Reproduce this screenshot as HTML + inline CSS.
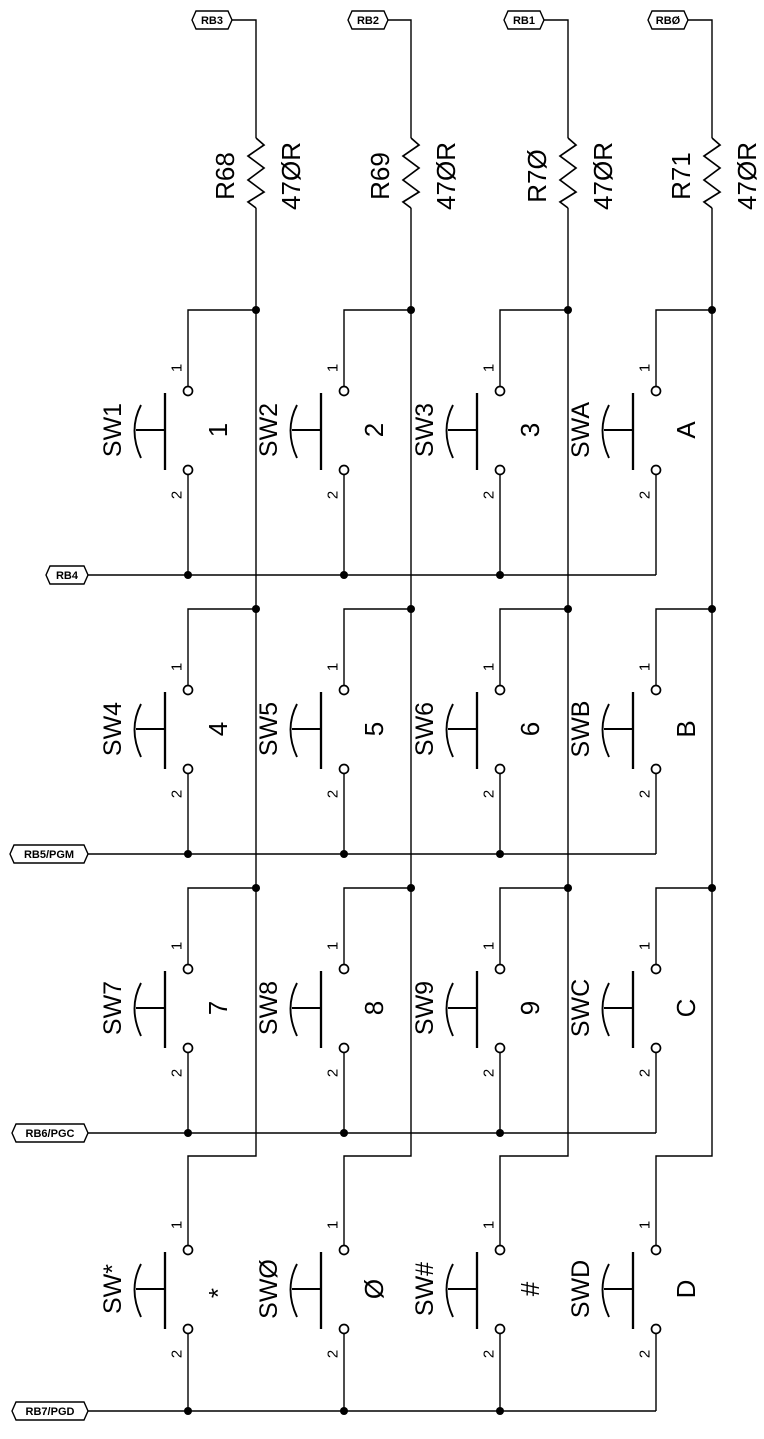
<!DOCTYPE html>
<html><head><meta charset="utf-8"><style>
html,body{margin:0;padding:0;background:#fff}
svg{display:block}
text{font-family:"Liberation Sans",sans-serif;fill:#000}
.sw{font-size:25px}
.num{font-size:26px}
.pin{font-size:15px}
.hx{font-size:11px;font-weight:bold}
.rl{font-size:26px}
</style></head><body>
<svg width="764" height="1439" viewBox="0 0 764 1439" xmlns="http://www.w3.org/2000/svg">
<defs>
<g id="sw" fill="none" stroke="#000">
  <circle cx="0" cy="-39" r="4.5" stroke-width="1.7"/>
  <circle cx="0" cy="40" r="4.5" stroke-width="1.7"/>
  <line x1="-23" y1="-37" x2="-23" y2="40" stroke-width="2.3"/>
  <line x1="-52" y1="0" x2="-23" y2="0" stroke-width="2.1"/>
  <path d="M-47,-25 Q-60,0 -47,28" stroke-width="1.9"/>
</g>
<polyline id="res" points="0,138 8,145 -8,156 8,168 -8,180 8,192 -8,202 0,208" fill="none" stroke="#000" stroke-width="1.7"/>
</defs>
<g stroke="#000" stroke-width="1.4" fill="none">
  <polyline points="232,20 256,20 256,138"/>
  <polyline points="388,20 411,20 411,138"/>
  <polyline points="544,20 568,20 568,138"/>
  <polyline points="688,20 712,20 712,138"/>
  <polyline points="256,208 256,1156 188,1156 188,1246"/>
  <polyline points="411,208 411,1156 344,1156 344,1246"/>
  <polyline points="568,208 568,1156 500,1156 500,1246"/>
  <polyline points="712,208 712,1156 656,1156 656,1246"/>
  <polyline points="256,310 188,310 188,387"/>
  <polyline points="411,310 344,310 344,387"/>
  <polyline points="568,310 500,310 500,387"/>
  <polyline points="712,310 656,310 656,387"/>
  <polyline points="256,609 188,609 188,686"/>
  <polyline points="411,609 344,609 344,686"/>
  <polyline points="568,609 500,609 500,686"/>
  <polyline points="712,609 656,609 656,686"/>
  <polyline points="256,888 188,888 188,965"/>
  <polyline points="411,888 344,888 344,965"/>
  <polyline points="568,888 500,888 500,965"/>
  <polyline points="712,888 656,888 656,965"/>
  <line x1="188" y1="475" x2="188" y2="575"/><line x1="344" y1="475" x2="344" y2="575"/><line x1="500" y1="475" x2="500" y2="575"/><line x1="656" y1="475" x2="656" y2="575"/>
  <line x1="188" y1="774" x2="188" y2="854"/><line x1="344" y1="774" x2="344" y2="854"/><line x1="500" y1="774" x2="500" y2="854"/><line x1="656" y1="774" x2="656" y2="854"/>
  <line x1="188" y1="1053" x2="188" y2="1133"/><line x1="344" y1="1053" x2="344" y2="1133"/><line x1="500" y1="1053" x2="500" y2="1133"/><line x1="656" y1="1053" x2="656" y2="1133"/>
  <line x1="188" y1="1333" x2="188" y2="1411"/><line x1="344" y1="1333" x2="344" y2="1411"/><line x1="500" y1="1333" x2="500" y2="1411"/><line x1="656" y1="1333" x2="656" y2="1411"/>
  <line x1="88" y1="575" x2="656" y2="575"/>
  <line x1="88" y1="854" x2="656" y2="854"/>
  <line x1="88" y1="1133" x2="656" y2="1133"/>
  <line x1="88" y1="1411" x2="656" y2="1411"/>
  <polygon points="192,20 196,11 228,11 232,20 228,29 196,29"/>
  <polygon points="348,20 352,11 384,11 388,20 384,29 352,29"/>
  <polygon points="504,20 508,11 540,11 544,20 540,29 508,29"/>
  <polygon points="648,20 652,11 684,11 688,20 684,29 652,29"/>
  <polygon points="46,575 50,566 84,566 88,575 84,584 50,584"/>
  <polygon points="10,854 14,845 84,845 88,854 84,863 14,863"/>
  <polygon points="12,1133 16,1124 84,1124 88,1133 84,1142 16,1142"/>
  <polygon points="12,1411 16,1402 84,1402 88,1411 84,1420 16,1420"/>
</g>
<use href="#res" x="256"/><use href="#res" x="411"/><use href="#res" x="568"/><use href="#res" x="712"/>
<g fill="#000">
  <circle cx="256" cy="310" r="4"/><circle cx="411" cy="310" r="4"/><circle cx="568" cy="310" r="4"/><circle cx="712" cy="310" r="4"/>
  <circle cx="256" cy="609" r="4"/><circle cx="411" cy="609" r="4"/><circle cx="568" cy="609" r="4"/><circle cx="712" cy="609" r="4"/>
  <circle cx="256" cy="888" r="4"/><circle cx="411" cy="888" r="4"/><circle cx="568" cy="888" r="4"/><circle cx="712" cy="888" r="4"/>
  <circle cx="188" cy="575" r="4"/><circle cx="344" cy="575" r="4"/><circle cx="500" cy="575" r="4"/>
  <circle cx="188" cy="854" r="4"/><circle cx="344" cy="854" r="4"/><circle cx="500" cy="854" r="4"/>
  <circle cx="188" cy="1133" r="4"/><circle cx="344" cy="1133" r="4"/><circle cx="500" cy="1133" r="4"/>
  <circle cx="188" cy="1411" r="4"/><circle cx="344" cy="1411" r="4"/><circle cx="500" cy="1411" r="4"/>
</g>
<use href="#sw" x="188" y="430"/><use href="#sw" x="344" y="430"/><use href="#sw" x="500" y="430"/><use href="#sw" x="656" y="430"/>
<use href="#sw" x="188" y="729"/><use href="#sw" x="344" y="729"/><use href="#sw" x="500" y="729"/><use href="#sw" x="656" y="729"/>
<use href="#sw" x="188" y="1008"/><use href="#sw" x="344" y="1008"/><use href="#sw" x="500" y="1008"/><use href="#sw" x="656" y="1008"/>
<use href="#sw" x="188" y="1289"/><use href="#sw" x="344" y="1289"/><use href="#sw" x="500" y="1289"/><use href="#sw" x="656" y="1289"/>
<g class="hx" text-anchor="middle">
  <text x="212" y="24">RB3</text><text x="368" y="24">RB2</text><text x="524" y="24">RB1</text><text x="668" y="24">RBØ</text>
  <text x="67" y="579">RB4</text><text x="49" y="858">RB5/PGM</text><text x="50" y="1137">RB6/PGC</text><text x="50" y="1415">RB7/PGD</text>
</g>
<g text-anchor="middle" dominant-baseline="central">
  <text class="rl" transform="translate(225,176) rotate(-90)">R68</text>
  <text class="rl" transform="translate(291,176) rotate(-90)">47ØR</text>
  <text class="rl" transform="translate(380,176) rotate(-90)">R69</text>
  <text class="rl" transform="translate(446,176) rotate(-90)">47ØR</text>
  <text class="rl" transform="translate(537,176) rotate(-90)">R7Ø</text>
  <text class="rl" transform="translate(603,176) rotate(-90)">47ØR</text>
  <text class="rl" transform="translate(681,176) rotate(-90)">R71</text>
  <text class="rl" transform="translate(747,176) rotate(-90)">47ØR</text>

  <text class="sw" transform="translate(113,430) rotate(-90)">SW1</text>
  <text class="sw" transform="translate(269,430) rotate(-90)">SW2</text>
  <text class="sw" transform="translate(425,430) rotate(-90)">SW3</text>
  <text class="sw" transform="translate(581,430) rotate(-90)">SWA</text>
  <text class="sw" transform="translate(113,729) rotate(-90)">SW4</text>
  <text class="sw" transform="translate(269,729) rotate(-90)">SW5</text>
  <text class="sw" transform="translate(425,729) rotate(-90)">SW6</text>
  <text class="sw" transform="translate(581,729) rotate(-90)">SWB</text>
  <text class="sw" transform="translate(113,1008) rotate(-90)">SW7</text>
  <text class="sw" transform="translate(269,1008) rotate(-90)">SW8</text>
  <text class="sw" transform="translate(425,1008) rotate(-90)">SW9</text>
  <text class="sw" transform="translate(581,1008) rotate(-90)">SWC</text>
  <text class="sw" transform="translate(113,1289) rotate(-90)">SW*</text>
  <text class="sw" transform="translate(269,1289) rotate(-90)">SWØ</text>
  <text class="sw" transform="translate(425,1289) rotate(-90)">SW#</text>
  <text class="sw" transform="translate(581,1289) rotate(-90)">SWD</text>

  <text class="num" transform="translate(218,430) rotate(-90)">1</text>
  <text class="num" transform="translate(374,430) rotate(-90)">2</text>
  <text class="num" transform="translate(530,430) rotate(-90)">3</text>
  <text class="num" transform="translate(686,430) rotate(-90)">A</text>
  <text class="num" transform="translate(218,729) rotate(-90)">4</text>
  <text class="num" transform="translate(374,729) rotate(-90)">5</text>
  <text class="num" transform="translate(530,729) rotate(-90)">6</text>
  <text class="num" transform="translate(686,729) rotate(-90)">B</text>
  <text class="num" transform="translate(218,1008) rotate(-90)">7</text>
  <text class="num" transform="translate(374,1008) rotate(-90)">8</text>
  <text class="num" transform="translate(530,1008) rotate(-90)">9</text>
  <text class="num" transform="translate(686,1008) rotate(-90)">C</text>
  <text class="num" transform="translate(218,1293) rotate(-90)">*</text>
  <text class="num" transform="translate(374,1289) rotate(-90)">Ø</text>
  <text class="num" transform="translate(530,1289) rotate(-90)">#</text>
  <text class="num" transform="translate(686,1289) rotate(-90)">D</text>

  <g class="pin">
  <text transform="translate(177,368) rotate(-90)">1</text><text transform="translate(177,495) rotate(-90)">2</text>
  <text transform="translate(333,368) rotate(-90)">1</text><text transform="translate(333,495) rotate(-90)">2</text>
  <text transform="translate(489,368) rotate(-90)">1</text><text transform="translate(489,495) rotate(-90)">2</text>
  <text transform="translate(645,368) rotate(-90)">1</text><text transform="translate(645,495) rotate(-90)">2</text>
  <text transform="translate(177,667) rotate(-90)">1</text><text transform="translate(177,794) rotate(-90)">2</text>
  <text transform="translate(333,667) rotate(-90)">1</text><text transform="translate(333,794) rotate(-90)">2</text>
  <text transform="translate(489,667) rotate(-90)">1</text><text transform="translate(489,794) rotate(-90)">2</text>
  <text transform="translate(645,667) rotate(-90)">1</text><text transform="translate(645,794) rotate(-90)">2</text>
  <text transform="translate(177,946) rotate(-90)">1</text><text transform="translate(177,1073) rotate(-90)">2</text>
  <text transform="translate(333,946) rotate(-90)">1</text><text transform="translate(333,1073) rotate(-90)">2</text>
  <text transform="translate(489,946) rotate(-90)">1</text><text transform="translate(489,1073) rotate(-90)">2</text>
  <text transform="translate(645,946) rotate(-90)">1</text><text transform="translate(645,1073) rotate(-90)">2</text>
  <text transform="translate(177,1225) rotate(-90)">1</text><text transform="translate(177,1354) rotate(-90)">2</text>
  <text transform="translate(333,1225) rotate(-90)">1</text><text transform="translate(333,1354) rotate(-90)">2</text>
  <text transform="translate(489,1225) rotate(-90)">1</text><text transform="translate(489,1354) rotate(-90)">2</text>
  <text transform="translate(645,1225) rotate(-90)">1</text><text transform="translate(645,1354) rotate(-90)">2</text>
  </g>
</g>
</svg>
</body></html>
